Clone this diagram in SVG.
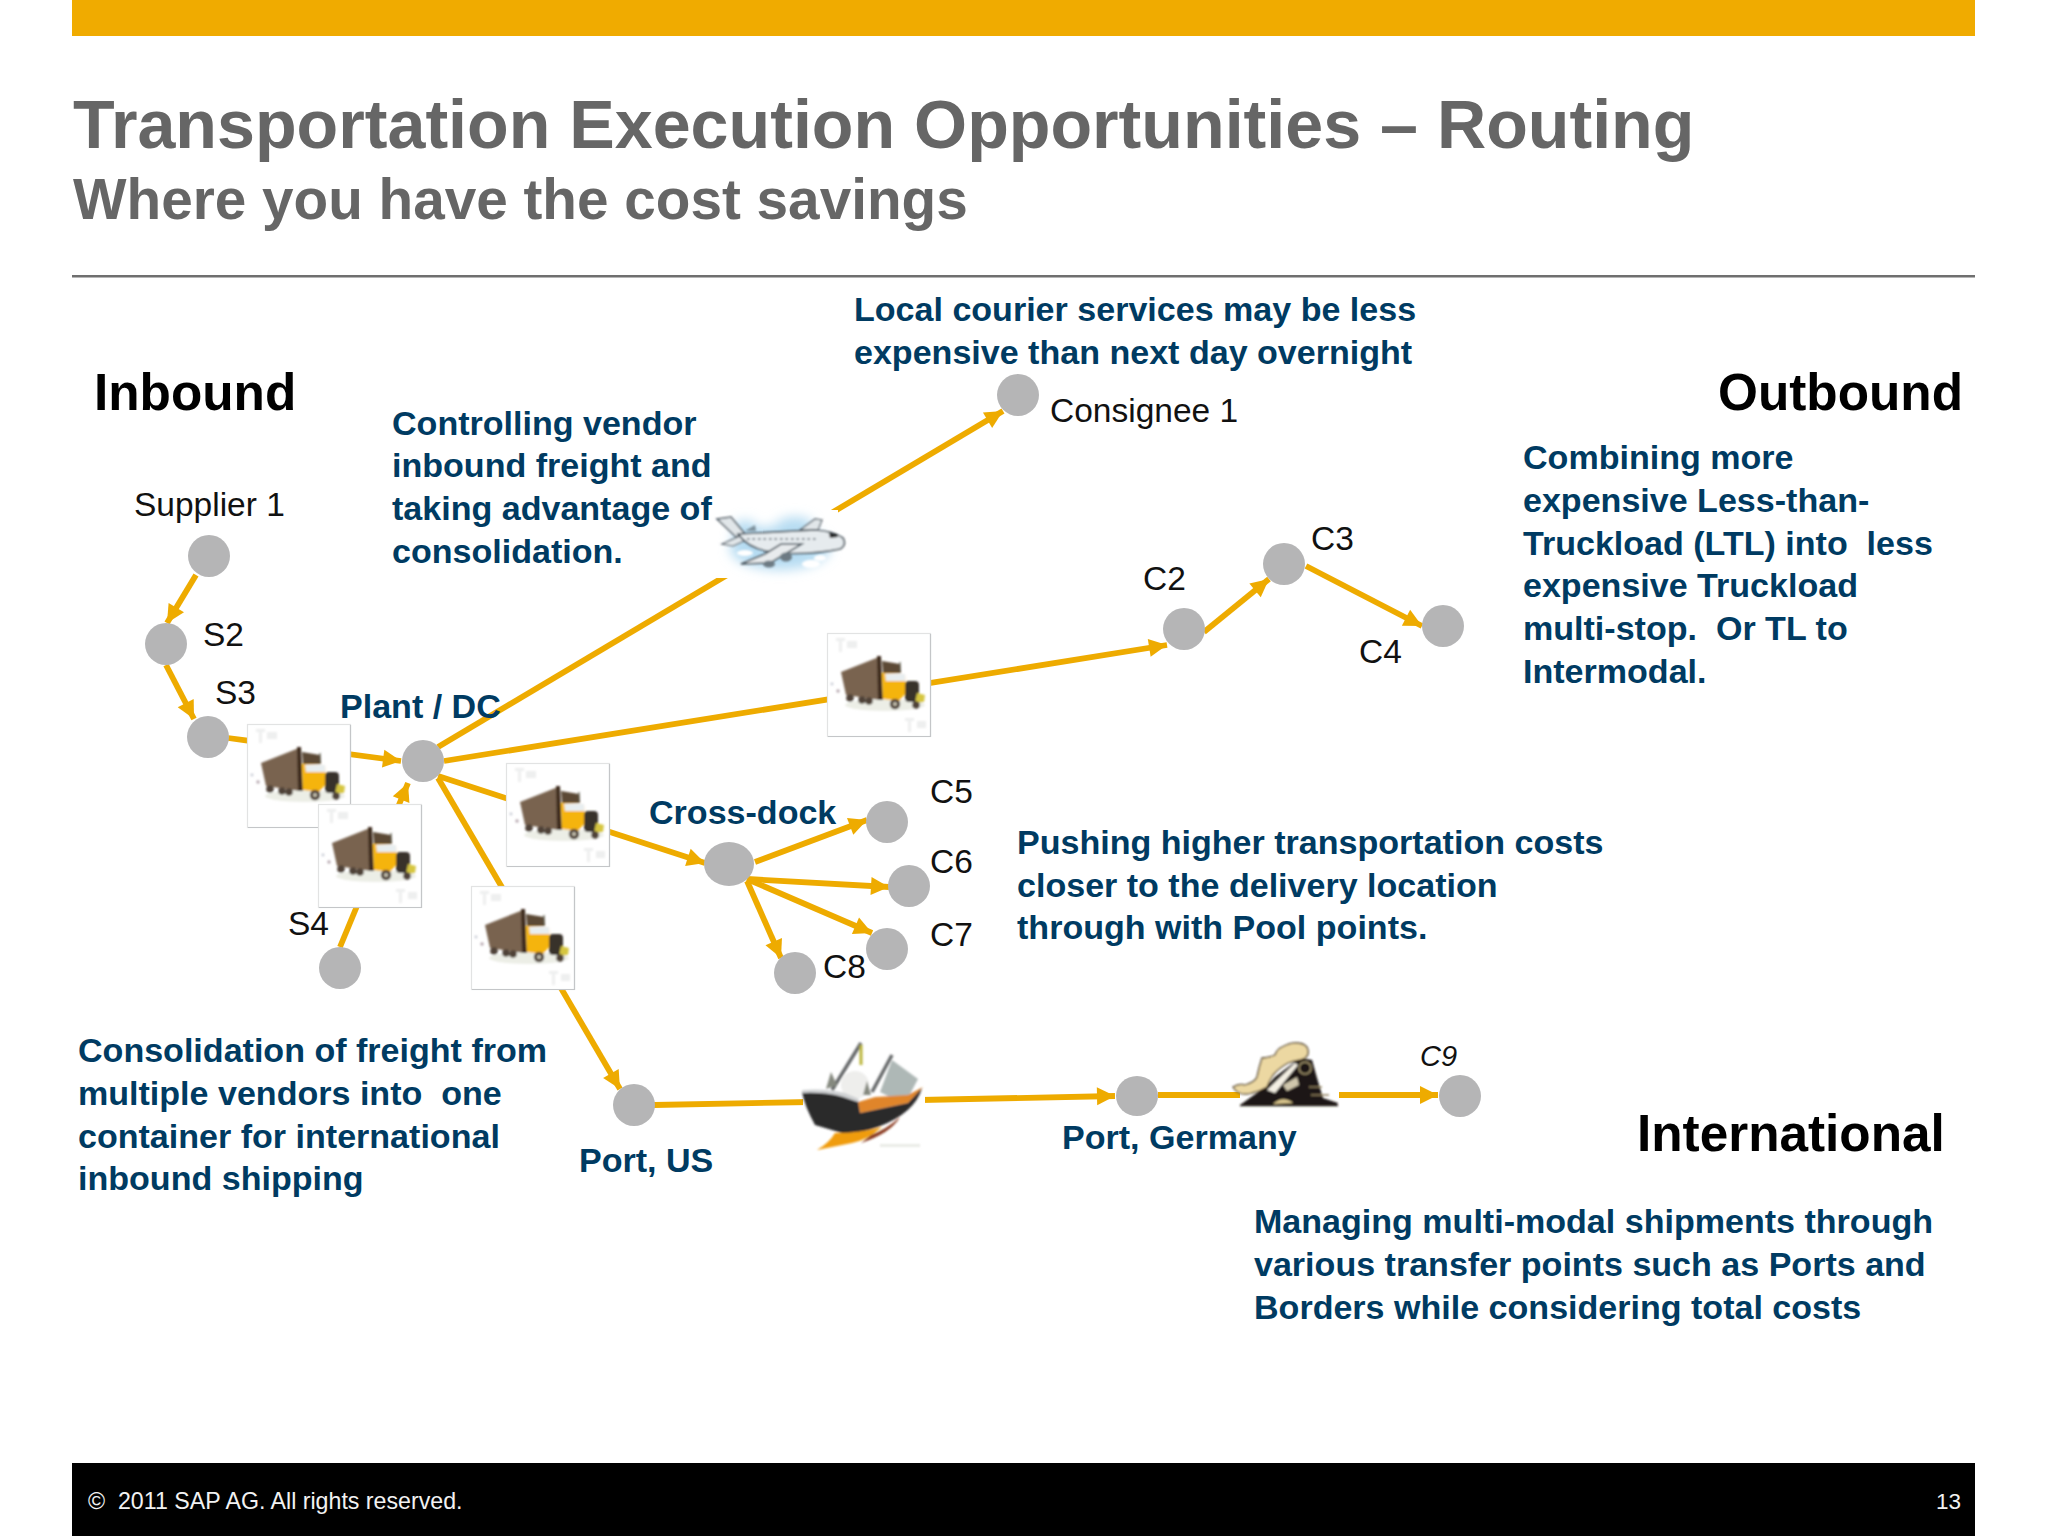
<svg xmlns="http://www.w3.org/2000/svg" width="2048" height="1536" viewBox="0 0 2048 1536">
<style>
text{font-family:"Liberation Sans",Arial,sans-serif;white-space:pre}
.n{fill:#b5b5b6}
.l{font-size:33.5px;fill:#111}
.b{font-size:34.05px;font-weight:bold;fill:#003b62}
.h{font-size:51.3px;font-weight:bold;fill:#000}
.c line{stroke:#eeab00;stroke-width:5.8;fill:none}
.a{marker-end:url(#ah)}
</style>
<defs>
<marker id="ah" markerUnits="userSpaceOnUse" markerWidth="20" markerHeight="20" viewBox="0 0 20 20" refX="19" refY="10" orient="auto"><path d="M1 1 L19 10 L1 19 Z" fill="#eeab00"/></marker>
<filter id="soft" x="-10%" y="-10%" width="120%" height="120%"><feGaussianBlur stdDeviation="0.8"/></filter>
<filter id="cloud" x="-30%" y="-30%" width="160%" height="160%"><feGaussianBlur stdDeviation="6"/></filter>
<symbol id="truck" viewBox="0 0 104 104" width="104" height="104" overflow="visible">
<rect x="0.5" y="0.5" width="103" height="103" fill="#fff" stroke="#e2e3e3" stroke-width="1.2"/>
<path d="M103.500 1V103.500H1" fill="none" stroke="#c4c6c8" stroke-width="1.2"/>
<g filter="url(#soft)">
<g fill="#eeefef"><rect x="9" y="5" width="9" height="3"/><rect x="12" y="5" width="3" height="14"/><rect x="20" y="8" width="10" height="7"/><rect x="78" y="85" width="9" height="3"/><rect x="81" y="85" width="3" height="14"/><rect x="90" y="88" width="9" height="7"/></g>
<ellipse cx="58" cy="72" rx="40" ry="6" fill="#eceee6"/>
<path d="M14 39 L52 24 L53 67 L19 62 Z" fill="#79634f"/>
<path d="M50 23 L54 23 L56 67 L51 67 Z" fill="#3d2c1c"/>
<path d="M55 28 L73 31 L74 40 L56 40 Z" fill="#5b4836"/>
<path d="M55 40 L78 41 L79 60 L72 68 L56 66 Z" fill="#f5b40f"/>
<path d="M58 41 L78 41 L78 48 L59 48 Z" fill="#e8eef0"/>
<path d="M73 29 L73 40" stroke="#554" stroke-width="1.200"/>
<rect x="78" y="48" width="14" height="21" rx="4" fill="#38302c"/>
<path d="M90 60 L98 62 L97 69 L88 70 Z" fill="#d6c640"/>
<g fill="#4f4238"><circle cx="23" cy="65" r="3.800"/><circle cx="35" cy="67" r="3.800"/><circle cx="42" cy="68" r="3.800"/><circle cx="68" cy="71" r="5.200"/><circle cx="89" cy="72" r="3.800"/></g>
<circle cx="68" cy="71" r="2" fill="#c9c4b4"/>
<circle cx="11" cy="58" r="1.700" fill="#b6a8b0"/><circle cx="5" cy="51" r="1.400" fill="#c8ccd4"/>
</g>
</symbol>
</defs>
<rect width="2048" height="1536" fill="#fff"/>
<rect id="top-bar" x="72" y="0" width="1903" height="36" fill="#f0ab00"/>
<text x="73" y="148" font-size="68.2" font-weight="bold" fill="#666">Transportation Execution Opportunities – Routing</text>
<text x="73" y="219" font-size="56.7" font-weight="bold" fill="#666">Where you have the cost savings</text>
<rect x="72" y="275" width="1903" height="2.5" fill="#6f6f6f"/>

<g id="connectors" class="c">
<line class="a" x1="196" y1="575" x2="167" y2="623"/>
<line class="a" x1="166" y1="665" x2="194" y2="719"/>
<line class="a" x1="228" y1="738" x2="401" y2="761"/>
<line class="a" x1="340" y1="947" x2="408" y2="783"/>
<line class="a" x1="438" y1="747" x2="1003" y2="411"/>
<line class="a" x1="444" y1="761" x2="1167" y2="645"/>
<line class="a" x1="1204" y1="632" x2="1269" y2="579"/>
<line class="a" x1="1306" y1="566" x2="1422" y2="626"/>
<line class="a" x1="438" y1="776" x2="705" y2="863"/>
<line class="a" x1="438" y1="778" x2="620" y2="1089"/>
<line x1="654" y1="1105" x2="810" y2="1102"/>
<line class="a" x1="920" y1="1100" x2="1115" y2="1096"/>
<line x1="1158" y1="1095" x2="1240" y2="1095"/>
<line class="a" x1="1339" y1="1095" x2="1438" y2="1095"/>
<line class="a" x1="755" y1="862" x2="867" y2="820"/>
<line class="a" x1="747" y1="879" x2="889" y2="887"/>
<line class="a" x1="747" y1="879" x2="872" y2="933"/>
<line class="a" x1="747" y1="881" x2="781" y2="958"/>
</g>

<g id="truck-1"><use href="#truck" x="247" y="724"/></g>
<g id="truck-2"><use href="#truck" x="318" y="804"/></g>
<g id="truck-3"><use href="#truck" x="506" y="763"/></g>
<g id="truck-4"><use href="#truck" x="471" y="886"/></g>
<g id="truck-5"><use href="#truck" x="827" y="633"/></g>

<g id="plane">
<rect x="716" y="510" width="122" height="68" fill="#fff"/>
<g filter="url(#cloud)" fill="#b6dcf2"><ellipse cx="780" cy="548" rx="50" ry="22"/><ellipse cx="745" cy="530" rx="12" ry="10"/><ellipse cx="795" cy="525" rx="18" ry="8"/></g>
<g fill="#fff" filter="url(#soft)"><ellipse cx="811" cy="564" rx="9" ry="4"/><ellipse cx="745" cy="553" rx="8" ry="3"/><ellipse cx="820" cy="558" rx="6" ry="3"/></g>
<g filter="url(#soft)">
<path d="M717 519 L731 517 L745 534 L736 537 Z" fill="#e1e6e9" stroke="#4f5a63" stroke-width="1.500"/>
<path d="M722 544 L740 536 L746 540 L733 546 Z" fill="#e1e6e9" stroke="#4f5a63" stroke-width="1.200"/>
<path d="M745 531 L755 525 L756 531 Z" fill="#7e919c"/>
<path d="M800 530 L815 519 L822 520 L818 530 Z" fill="#e1e6e9" stroke="#4f5a63" stroke-width="1.200"/>
<path d="M738 534 L815 530 Q833 531 843 538 Q847 545 840 549 Q810 555 780 553 Q750 551 738 534 Z" fill="#e6ebee" stroke="#47535c" stroke-width="1.600"/>
<path d="M829 533 L837 534 L838 537 L830 538 Z" fill="#222"/>
<path d="M765 554 L781 544 L802 544 L770 563 L741 564 Z" fill="#e8ebed" stroke="#47535c" stroke-width="1.500"/>
<ellipse cx="769" cy="564" rx="6" ry="3.500" fill="#6d7a83"/>
<ellipse cx="786" cy="557" rx="6" ry="4.500" fill="#6d7a83"/>
<path d="M747 539 H818" stroke="#5f6b74" stroke-width="1.500" stroke-dasharray="2.500 3" fill="none"/>
</g>
</g>

<g id="ship">
<rect x="803" y="1040" width="122" height="112" fill="#fff"/>
<g transform="translate(795 1035)" filter="url(#soft)">
<circle cx="60" cy="50" r="14" fill="#eeeeec"/>
<path d="M37 55 L66 8 M77 57 L97 20" stroke="#66696a" stroke-width="3.500" fill="none"/>
<path d="M66 10 V30" stroke="#b9b43a" stroke-width="3"/>
<path d="M85 57 L97 25 L123 44 L113 63 L95 62 Z" fill="#aeb8b6"/>
<path d="M31 54 L36 37 L42 50 Z M68 60 L72 46 L76 60 Z" fill="#85897f"/>
<path d="M63 67 L80 62 L113 60 L128 52 L113 68 L65 78 Z" fill="#e0852c"/>
<path d="M7 57 Q30 55 50 60 L63 66 L65 78 L113 68 L127 53 Q120 78 83 92 Q60 100 47 98 L20 90 Q10 72 7 57 Z" fill="#2a2a2c"/>
<path d="M7 55 Q30 53 50 58 L64 64 L63 67 L48 62 Q30 57 8 58 Z" fill="#cfd1d3"/>
<path d="M40 98 Q65 98 87 92 Q72 105 57 108 L22 115 Q34 108 40 98 Z" fill="#f09c10"/>
<path d="M76 100 Q92 94 105 82 Q96 98 66 108 Z" fill="#8a3a20"/>
<rect x="85" y="109" width="40" height="3" fill="#e9ebe6"/>
</g>
</g>

<g id="train" transform="translate(1225 1035)">
<g filter="url(#soft)">
<path d="M15 70 L43 50 L50 42 L75 23 L87 25 L92 43 L98 63 L113 68 L112 70 Z" fill="#1e1913"/>
<path d="M8 52 Q14 48 20 50 Q30 47 32 42 Q34 32 37 23 Q46 22 50 20 Q52 14 57 12 Q66 7 73 8 Q82 9 83 15 Q84 20 80 23 L75 25 Q68 26 63 28 Q54 33 48 40 Q44 46 42 52 Q35 56 27 58 Q14 62 8 52 Z" fill="#ecd8a2" stroke="#4a3820" stroke-width="1.300"/>
<path d="M42 55 L70 28 L73 30 L50 58 Z" fill="#f4f0e4"/>
<path d="M58 50 L72 42 L74 50 L62 56 Z" fill="#cfc6ac"/>
<circle cx="80" cy="33" r="6" fill="none" stroke="#a3956d" stroke-width="1.500"/>
<path d="M48 69 Q58 60 68 68 Z" fill="#dcc88e"/>
<path d="M84 52 H97 M86 60 H104" stroke="#8c7c5a" stroke-width="1.500"/>
<path d="M15 70.500 H113" stroke="#2a241d" stroke-width="1.600"/>
</g>
</g>

<g id="supplier-1"><circle class="n" cx="209" cy="556" r="21"/><text class="l" x="134" y="516">Supplier 1</text></g>
<g id="s2"><circle class="n" cx="166" cy="644" r="21"/><text class="l" x="203" y="646">S2</text></g>
<g id="s3"><circle class="n" cx="208" cy="737" r="21"/><text class="l" x="215" y="704">S3</text></g>
<g id="s4"><circle class="n" cx="340" cy="968" r="21"/><text class="l" x="288" y="935">S4</text></g>
<g id="plant-dc"><circle class="n" cx="423" cy="761" r="21"/><text class="b" x="340" y="718">Plant / DC</text></g>
<g id="consignee-1"><circle class="n" cx="1018" cy="395" r="21"/><text class="l" x="1050" y="422">Consignee 1</text></g>
<g id="c2"><circle class="n" cx="1184" cy="629" r="21"/><text class="l" x="1143" y="590">C2</text></g>
<g id="c3"><circle class="n" cx="1284" cy="564" r="21"/><text class="l" x="1311" y="550">C3</text></g>
<g id="c4"><circle class="n" cx="1443" cy="626" r="21"/><text class="l" x="1359" y="663">C4</text></g>
<g id="cross-dock"><ellipse class="n" cx="729" cy="864" rx="25" ry="22"/><text class="b" x="649" y="824">Cross-dock</text></g>
<g id="c5"><circle class="n" cx="887" cy="822" r="21"/><text class="l" x="930" y="803">C5</text></g>
<g id="c6"><circle class="n" cx="909" cy="886" r="21"/><text class="l" x="930" y="873">C6</text></g>
<g id="c7"><circle class="n" cx="887" cy="949" r="21"/><text class="l" x="930" y="946">C7</text></g>
<g id="c8"><circle class="n" cx="795" cy="973" r="21"/><text class="l" x="823" y="978">C8</text></g>
<g id="port-us"><circle class="n" cx="634" cy="1105" r="21"/><text class="b" x="579" y="1172">Port, US</text></g>
<g id="port-germany"><ellipse class="n" cx="1137" cy="1096" rx="21" ry="20"/><text class="b" x="1062" y="1149">Port, Germany</text></g>
<g id="c9"><circle class="n" cx="1460" cy="1096" r="21"/><text x="1420" y="1066" font-size="29" font-style="italic" fill="#111">C9</text></g>

<g id="labels">
<text class="h" x="94" y="410">Inbound</text>
<text class="h" x="1963" y="410" text-anchor="end">Outbound</text>
<text class="h" x="1637" y="1151">International</text>
<text class="b" x="854" y="321">Local courier services may be less</text>
<text class="b" x="854" y="364">expensive than next day overnight</text>
<text class="b" x="392" y="435">Controlling vendor</text>
<text class="b" x="392" y="477">inbound freight and</text>
<text class="b" x="392" y="520">taking advantage of</text>
<text class="b" x="392" y="563">consolidation.</text>
<text class="b" x="1523" y="469">Combining more</text>
<text class="b" x="1523" y="512">expensive Less-than-</text>
<text class="b" x="1523" y="555">Truckload (LTL) into  less</text>
<text class="b" x="1523" y="597">expensive Truckload</text>
<text class="b" x="1523" y="640">multi-stop.  Or TL to</text>
<text class="b" x="1523" y="683">Intermodal.</text>
<text class="b" x="1017" y="854">Pushing higher transportation costs</text>
<text class="b" x="1017" y="897">closer to the delivery location</text>
<text class="b" x="1017" y="939">through with Pool points.</text>
<text class="b" x="78" y="1062">Consolidation of freight from</text>
<text class="b" x="78" y="1105">multiple vendors into  one</text>
<text class="b" x="78" y="1148">container for international</text>
<text class="b" x="78" y="1190">inbound shipping</text>
<text class="b" x="1254" y="1233">Managing multi-modal shipments through</text>
<text class="b" x="1254" y="1276">various transfer points such as Ports and</text>
<text class="b" x="1254" y="1319">Borders while considering total costs</text>
</g>

<g id="footer">
<rect x="72" y="1463" width="1903" height="73" fill="#000"/>
<text x="88" y="1509" font-size="23.2" fill="#f2f2f2">©  2011 SAP AG. All rights reserved.</text>
<text x="1961" y="1509" font-size="22.500" fill="#f2f2f2" text-anchor="end">13</text>
</g>
</svg>
